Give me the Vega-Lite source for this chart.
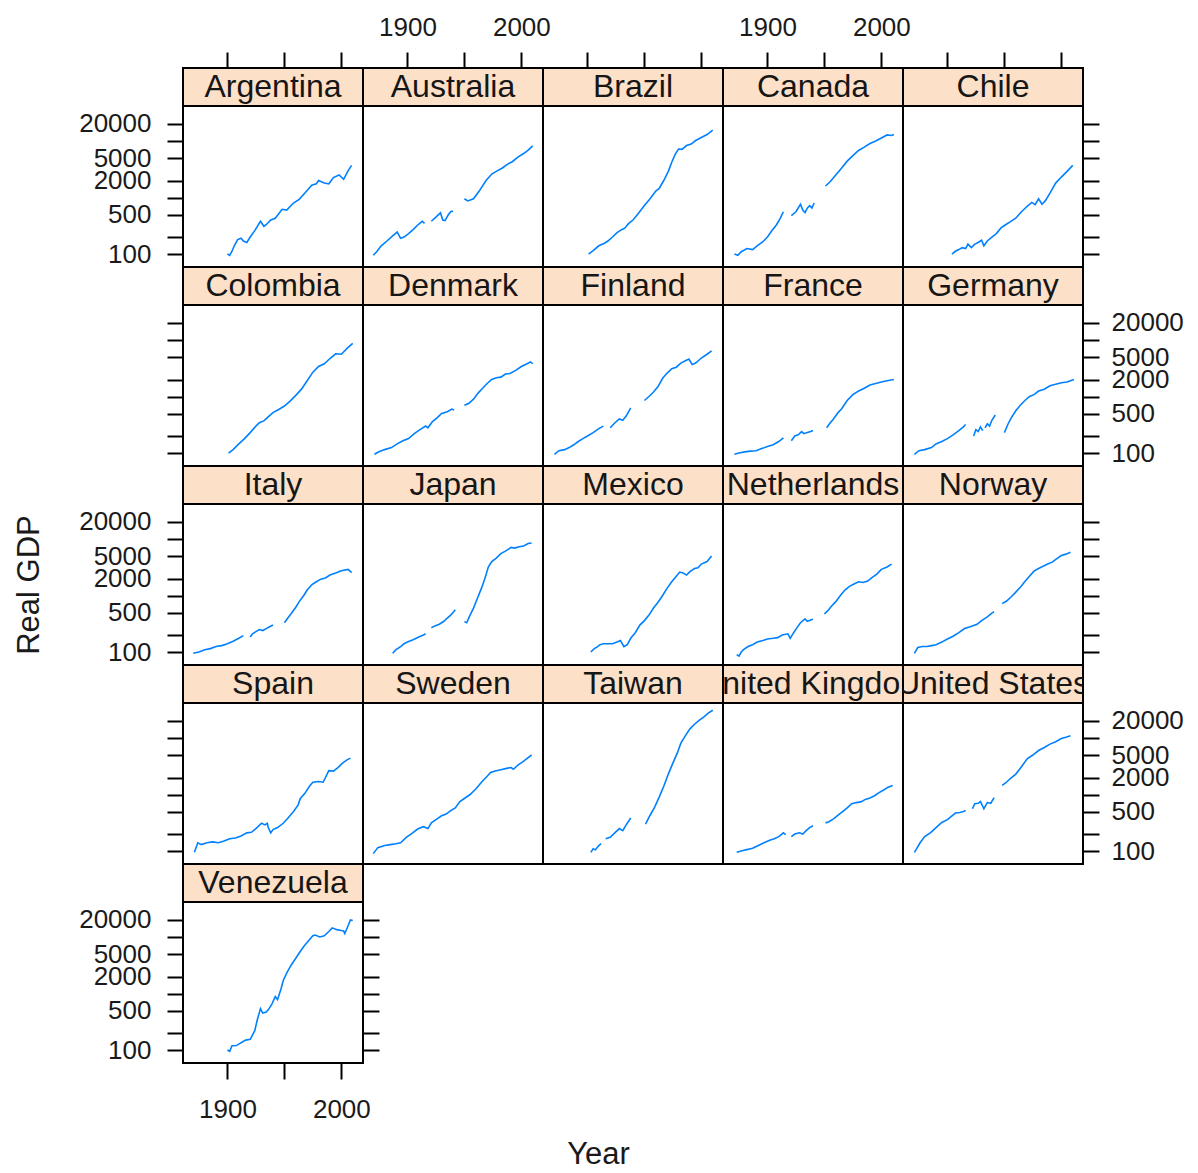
{
"$schema":"https://vega.github.io/schema/vega-lite/v6.json",
"padding":{"left":12,"top":13,"right":5,"bottom":2},
"config":{"font":"Liberation Sans","view":{"stroke":"#000","strokeWidth":2},
"axis":{"domain":false,"grid":false,"tickColor":"#000","tickWidth":2,"tickSize":16,"labelFontSize":26,"labelColor":"#1a1a1a","labelOverlap":false,"labelFlush":false,"titleFontSize":31,"titleFontWeight":"normal","titleColor":"#1a1a1a"},
"line":{"color":"#0080ff","strokeWidth":1.6},
"text":{"fontSize":32,"color":"#161616","baseline":"middle"}},
"title":{"text":"Year","orient":"bottom","anchor":"middle","fontSize":31,"fontWeight":"normal","color":"#1a1a1a","offset":17},
"columns":5,"spacing":0,"bounds":"flush",
"concat":[
{"width":180,"height":38,"view":{"fill":"#fde0c8"},"data":{"values":[{"country":"Argentina"}]},"mark":{"type":"text","clip":true},"encoding":{"x":{"datum":1940,"type":"quantitative","scale":{"domain":[1861,2019],"nice":false,"zero":false},"axis":{"orient":"top","values":[1900,1950,2000],"labels":false,"title":null}},"text":{"field":"country"}}},
{"width":180,"height":38,"view":{"fill":"#fde0c8"},"data":{"values":[{"country":"Australia"}]},"mark":{"type":"text","clip":true},"encoding":{"x":{"datum":1940,"type":"quantitative","scale":{"domain":[1861,2019],"nice":false,"zero":false},"axis":{"orient":"top","values":[1900,1950,2000],"format":"d","labelExpr":"datum.value==1950?'':datum.label","labelPadding":12,"title":null}},"text":{"field":"country"}}},
{"width":180,"height":38,"view":{"fill":"#fde0c8"},"data":{"values":[{"country":"Brazil"}]},"mark":{"type":"text","clip":true},"encoding":{"x":{"datum":1940,"type":"quantitative","scale":{"domain":[1861,2019],"nice":false,"zero":false},"axis":{"orient":"top","values":[1900,1950,2000],"labels":false,"title":null}},"text":{"field":"country"}}},
{"width":180,"height":38,"view":{"fill":"#fde0c8"},"data":{"values":[{"country":"Canada"}]},"mark":{"type":"text","clip":true},"encoding":{"x":{"datum":1940,"type":"quantitative","scale":{"domain":[1861,2019],"nice":false,"zero":false},"axis":{"orient":"top","values":[1900,1950,2000],"format":"d","labelExpr":"datum.value==1950?'':datum.label","labelPadding":12,"title":null}},"text":{"field":"country"}}},
{"width":180,"height":38,"view":{"fill":"#fde0c8"},"data":{"values":[{"country":"Chile"}]},"mark":{"type":"text","clip":true},"encoding":{"x":{"datum":1940,"type":"quantitative","scale":{"domain":[1861,2019],"nice":false,"zero":false},"axis":{"orient":"top","values":[1900,1950,2000],"labels":false,"title":null}},"text":{"field":"country"}}},
{"width":180,"height":161,"data":{"values":[
{"year":1900,"gdp":100,"seg":1},{"year":1902,"gdp":95,"seg":1},{"year":1904,"gdp":112,"seg":1},{"year":1906,"gdp":140,"seg":1},{"year":1909,"gdp":180,"seg":1},{"year":1912,"gdp":190,"seg":1},{"year":1914,"gdp":170,"seg":1},{"year":1917,"gdp":160,"seg":1},{"year":1920,"gdp":200,"seg":1},{"year":1924,"gdp":260,"seg":1},{"year":1929,"gdp":380,"seg":1},{"year":1932,"gdp":310,"seg":1},{"year":1934,"gdp":330,"seg":1},{"year":1938,"gdp":400,"seg":1},{"year":1942,"gdp":430,"seg":1},{"year":1948,"gdp":620,"seg":1},{"year":1952,"gdp":600,"seg":1},{"year":1958,"gdp":800,"seg":1},{"year":1963,"gdp":930,"seg":1},{"year":1968,"gdp":1200,"seg":1},{"year":1974,"gdp":1650,"seg":1},{"year":1978,"gdp":1750,"seg":1},{"year":1980,"gdp":2000,"seg":1},{"year":1985,"gdp":1800,"seg":1},{"year":1989,"gdp":1750,"seg":1},{"year":1993,"gdp":2250,"seg":1},{"year":1998,"gdp":2500,"seg":1},{"year":2002,"gdp":2100,"seg":1},{"year":2006,"gdp":3000,"seg":1},{"year":2009,"gdp":3700,"seg":1}]},
"mark":"line","encoding":{"x":{"field":"year","type":"quantitative","scale":{"domain":[1861,2019],"nice":false,"zero":false},"axis":null},"y":{"field":"gdp","type":"quantitative","scale":{"type":"log","domain":[59,41600],"nice":false},"axis":{"orient":"left","values":[100,200,500,1000,2000,5000,10000,20000],"format":"d","labelExpr":"datum.value==200||datum.value==1000||datum.value==10000?'':datum.label","labelPadding":16,"title":null}},"detail":{"field":"seg"}}},
{"width":180,"height":161,"data":{"values":[
{"year":1870,"gdp":95,"seg":1},{"year":1873,"gdp":110,"seg":1},{"year":1877,"gdp":140,"seg":1},{"year":1882,"gdp":170,"seg":1},{"year":1887,"gdp":210,"seg":1},{"year":1891,"gdp":245,"seg":1},{"year":1894,"gdp":190,"seg":1},{"year":1897,"gdp":200,"seg":1},{"year":1901,"gdp":230,"seg":1},{"year":1905,"gdp":270,"seg":1},{"year":1910,"gdp":340,"seg":1},{"year":1913,"gdp":380,"seg":1},{"year":1915,"gdp":350,"seg":1},
{"year":1921,"gdp":380,"seg":2},{"year":1925,"gdp":450,"seg":2},{"year":1929,"gdp":540,"seg":2},{"year":1931,"gdp":400,"seg":2},{"year":1933,"gdp":390,"seg":2},{"year":1936,"gdp":500,"seg":2},{"year":1938,"gdp":560,"seg":2},{"year":1940,"gdp":580,"seg":2},
{"year":1950,"gdp":950,"seg":3},{"year":1953,"gdp":870,"seg":3},{"year":1958,"gdp":950,"seg":3},{"year":1963,"gdp":1300,"seg":3},{"year":1969,"gdp":2000,"seg":3},{"year":1974,"gdp":2600,"seg":3},{"year":1978,"gdp":2900,"seg":3},{"year":1983,"gdp":3300,"seg":3},{"year":1988,"gdp":3900,"seg":3},{"year":1992,"gdp":4300,"seg":3},{"year":1997,"gdp":5200,"seg":3},{"year":2002,"gdp":6000,"seg":3},{"year":2006,"gdp":6900,"seg":3},{"year":2010,"gdp":8200,"seg":3}]},
"mark":"line","encoding":{"x":{"field":"year","type":"quantitative","scale":{"domain":[1861,2019],"nice":false,"zero":false},"axis":null},"y":{"field":"gdp","type":"quantitative","scale":{"type":"log","domain":[59,41600],"nice":false},"axis":null},"detail":{"field":"seg"}}},
{"width":180,"height":161,"data":{"values":[
{"year":1901,"gdp":100,"seg":1},{"year":1905,"gdp":115,"seg":1},{"year":1910,"gdp":140,"seg":1},{"year":1915,"gdp":155,"seg":1},{"year":1918,"gdp":170,"seg":1},{"year":1922,"gdp":200,"seg":1},{"year":1926,"gdp":240,"seg":1},{"year":1930,"gdp":270,"seg":1},{"year":1933,"gdp":290,"seg":1},{"year":1936,"gdp":345,"seg":1},{"year":1940,"gdp":400,"seg":1},{"year":1945,"gdp":530,"seg":1},{"year":1950,"gdp":720,"seg":1},{"year":1955,"gdp":950,"seg":1},{"year":1960,"gdp":1300,"seg":1},{"year":1963,"gdp":1450,"seg":1},{"year":1967,"gdp":2000,"seg":1},{"year":1971,"gdp":2900,"seg":1},{"year":1974,"gdp":4200,"seg":1},{"year":1977,"gdp":5800,"seg":1},{"year":1980,"gdp":7200,"seg":1},{"year":1983,"gdp":7100,"seg":1},{"year":1987,"gdp":8300,"seg":1},{"year":1991,"gdp":8800,"seg":1},{"year":1995,"gdp":10200,"seg":1},{"year":2000,"gdp":11500,"seg":1},{"year":2005,"gdp":13000,"seg":1},{"year":2010,"gdp":15500,"seg":1}]},
"mark":"line","encoding":{"x":{"field":"year","type":"quantitative","scale":{"domain":[1861,2019],"nice":false,"zero":false},"axis":null},"y":{"field":"gdp","type":"quantitative","scale":{"type":"log","domain":[59,41600],"nice":false},"axis":null},"detail":{"field":"seg"}}},
{"width":180,"height":161,"data":{"values":[
{"year":1871,"gdp":100,"seg":1},{"year":1874,"gdp":95,"seg":1},{"year":1877,"gdp":110,"seg":1},{"year":1882,"gdp":125,"seg":1},{"year":1887,"gdp":120,"seg":1},{"year":1891,"gdp":140,"seg":1},{"year":1896,"gdp":165,"seg":1},{"year":1900,"gdp":200,"seg":1},{"year":1904,"gdp":260,"seg":1},{"year":1908,"gdp":330,"seg":1},{"year":1911,"gdp":420,"seg":1},{"year":1914,"gdp":560,"seg":1},
{"year":1921,"gdp":480,"seg":2},{"year":1925,"gdp":560,"seg":2},{"year":1929,"gdp":760,"seg":2},{"year":1931,"gdp":600,"seg":2},{"year":1933,"gdp":540,"seg":2},{"year":1935,"gdp":650,"seg":2},{"year":1937,"gdp":720,"seg":2},{"year":1939,"gdp":650,"seg":2},{"year":1941,"gdp":800,"seg":2},
{"year":1951,"gdp":1600,"seg":3},{"year":1955,"gdp":1900,"seg":3},{"year":1960,"gdp":2500,"seg":3},{"year":1965,"gdp":3300,"seg":3},{"year":1970,"gdp":4400,"seg":3},{"year":1975,"gdp":5500,"seg":3},{"year":1980,"gdp":6800,"seg":3},{"year":1985,"gdp":7800,"seg":3},{"year":1990,"gdp":9000,"seg":3},{"year":1995,"gdp":10000,"seg":3},{"year":2000,"gdp":11300,"seg":3},{"year":2005,"gdp":12800,"seg":3},{"year":2009,"gdp":12500,"seg":3},{"year":2011,"gdp":13000,"seg":3}]},
"mark":"line","encoding":{"x":{"field":"year","type":"quantitative","scale":{"domain":[1861,2019],"nice":false,"zero":false},"axis":null},"y":{"field":"gdp","type":"quantitative","scale":{"type":"log","domain":[59,41600],"nice":false},"axis":null},"detail":{"field":"seg"}}},
{"width":180,"height":161,"data":{"values":[
{"year":1904,"gdp":100,"seg":1},{"year":1907,"gdp":112,"seg":1},{"year":1910,"gdp":120,"seg":1},{"year":1913,"gdp":130,"seg":1},{"year":1916,"gdp":125,"seg":1},{"year":1918,"gdp":150,"seg":1},{"year":1921,"gdp":130,"seg":1},{"year":1924,"gdp":150,"seg":1},{"year":1927,"gdp":160,"seg":1},{"year":1930,"gdp":175,"seg":1},{"year":1932,"gdp":140,"seg":1},{"year":1935,"gdp":170,"seg":1},{"year":1939,"gdp":200,"seg":1},{"year":1943,"gdp":230,"seg":1},{"year":1947,"gdp":290,"seg":1},{"year":1951,"gdp":330,"seg":1},{"year":1955,"gdp":370,"seg":1},{"year":1960,"gdp":430,"seg":1},{"year":1965,"gdp":560,"seg":1},{"year":1970,"gdp":700,"seg":1},{"year":1974,"gdp":820,"seg":1},{"year":1977,"gdp":750,"seg":1},{"year":1980,"gdp":950,"seg":1},{"year":1983,"gdp":760,"seg":1},{"year":1986,"gdp":880,"seg":1},{"year":1990,"gdp":1200,"seg":1},{"year":1995,"gdp":1800,"seg":1},{"year":2000,"gdp":2300,"seg":1},{"year":2005,"gdp":2900,"seg":1},{"year":2010,"gdp":3700,"seg":1}]},
"mark":"line","encoding":{"x":{"field":"year","type":"quantitative","scale":{"domain":[1861,2019],"nice":false,"zero":false},"axis":null},"y":{"field":"gdp","type":"quantitative","scale":{"type":"log","domain":[59,41600],"nice":false},"axis":{"orient":"right","values":[100,200,500,1000,2000,5000,10000,20000],"labels":false,"title":null}},"detail":{"field":"seg"}}},
{"width":180,"height":38,"view":{"fill":"#fde0c8"},"data":{"values":[{"country":"Colombia"}]},"mark":{"type":"text","clip":true},"encoding":{"x":{"datum":1940,"type":"quantitative","scale":{"domain":[1861,2019],"nice":false,"zero":false},"axis":null},"text":{"field":"country"}}},
{"width":180,"height":38,"view":{"fill":"#fde0c8"},"data":{"values":[{"country":"Denmark"}]},"mark":{"type":"text","clip":true},"encoding":{"x":{"datum":1940,"type":"quantitative","scale":{"domain":[1861,2019],"nice":false,"zero":false},"axis":null},"text":{"field":"country"}}},
{"width":180,"height":38,"view":{"fill":"#fde0c8"},"data":{"values":[{"country":"Finland"}]},"mark":{"type":"text","clip":true},"encoding":{"x":{"datum":1940,"type":"quantitative","scale":{"domain":[1861,2019],"nice":false,"zero":false},"axis":null},"text":{"field":"country"}}},
{"width":180,"height":38,"view":{"fill":"#fde0c8"},"data":{"values":[{"country":"France"}]},"mark":{"type":"text","clip":true},"encoding":{"x":{"datum":1940,"type":"quantitative","scale":{"domain":[1861,2019],"nice":false,"zero":false},"axis":null},"text":{"field":"country"}}},
{"width":180,"height":38,"view":{"fill":"#fde0c8"},"data":{"values":[{"country":"Germany"}]},"mark":{"type":"text","clip":true},"encoding":{"x":{"datum":1940,"type":"quantitative","scale":{"domain":[1861,2019],"nice":false,"zero":false},"axis":null},"text":{"field":"country"}}},
{"width":180,"height":161,"data":{"values":[
{"year":1901,"gdp":100,"seg":1},{"year":1905,"gdp":115,"seg":1},{"year":1910,"gdp":145,"seg":1},{"year":1915,"gdp":180,"seg":1},{"year":1920,"gdp":230,"seg":1},{"year":1925,"gdp":300,"seg":1},{"year":1928,"gdp":345,"seg":1},{"year":1932,"gdp":370,"seg":1},{"year":1936,"gdp":440,"seg":1},{"year":1940,"gdp":520,"seg":1},{"year":1945,"gdp":590,"seg":1},{"year":1950,"gdp":680,"seg":1},{"year":1955,"gdp":830,"seg":1},{"year":1960,"gdp":1050,"seg":1},{"year":1965,"gdp":1350,"seg":1},{"year":1970,"gdp":1900,"seg":1},{"year":1975,"gdp":2700,"seg":1},{"year":1980,"gdp":3400,"seg":1},{"year":1985,"gdp":3800,"seg":1},{"year":1990,"gdp":4700,"seg":1},{"year":1995,"gdp":5700,"seg":1},{"year":2000,"gdp":5600,"seg":1},{"year":2005,"gdp":7100,"seg":1},{"year":2010,"gdp":8700,"seg":1}]},
"mark":"line","encoding":{"x":{"field":"year","type":"quantitative","scale":{"domain":[1861,2019],"nice":false,"zero":false},"axis":null},"y":{"field":"gdp","type":"quantitative","scale":{"type":"log","domain":[59,41600],"nice":false},"axis":{"orient":"left","values":[100,200,500,1000,2000,5000,10000,20000],"labels":false,"title":null}},"detail":{"field":"seg"}}},
{"width":180,"height":161,"data":{"values":[
{"year":1871,"gdp":95,"seg":1},{"year":1875,"gdp":105,"seg":1},{"year":1880,"gdp":115,"seg":1},{"year":1886,"gdp":125,"seg":1},{"year":1891,"gdp":145,"seg":1},{"year":1896,"gdp":165,"seg":1},{"year":1901,"gdp":180,"seg":1},{"year":1906,"gdp":220,"seg":1},{"year":1911,"gdp":260,"seg":1},{"year":1916,"gdp":300,"seg":1},{"year":1918,"gdp":280,"seg":1},{"year":1922,"gdp":360,"seg":1},{"year":1926,"gdp":420,"seg":1},{"year":1930,"gdp":500,"seg":1},{"year":1935,"gdp":540,"seg":1},{"year":1939,"gdp":600,"seg":1},{"year":1941,"gdp":580,"seg":1},
{"year":1950,"gdp":700,"seg":2},{"year":1954,"gdp":760,"seg":2},{"year":1958,"gdp":900,"seg":2},{"year":1962,"gdp":1150,"seg":2},{"year":1966,"gdp":1400,"seg":2},{"year":1970,"gdp":1700,"seg":2},{"year":1974,"gdp":2000,"seg":2},{"year":1978,"gdp":2150,"seg":2},{"year":1982,"gdp":2200,"seg":2},{"year":1986,"gdp":2500,"seg":2},{"year":1990,"gdp":2550,"seg":2},{"year":1995,"gdp":2900,"seg":2},{"year":2000,"gdp":3400,"seg":2},{"year":2005,"gdp":3800,"seg":2},{"year":2008,"gdp":4100,"seg":2},{"year":2010,"gdp":3800,"seg":2}]},
"mark":"line","encoding":{"x":{"field":"year","type":"quantitative","scale":{"domain":[1861,2019],"nice":false,"zero":false},"axis":null},"y":{"field":"gdp","type":"quantitative","scale":{"type":"log","domain":[59,41600],"nice":false},"axis":null},"detail":{"field":"seg"}}},
{"width":180,"height":161,"data":{"values":[
{"year":1871,"gdp":95,"seg":1},{"year":1875,"gdp":110,"seg":1},{"year":1880,"gdp":115,"seg":1},{"year":1884,"gdp":125,"seg":1},{"year":1888,"gdp":140,"seg":1},{"year":1892,"gdp":160,"seg":1},{"year":1896,"gdp":180,"seg":1},{"year":1900,"gdp":200,"seg":1},{"year":1905,"gdp":230,"seg":1},{"year":1910,"gdp":270,"seg":1},{"year":1914,"gdp":300,"seg":1},
{"year":1920,"gdp":280,"seg":2},{"year":1924,"gdp":340,"seg":2},{"year":1928,"gdp":400,"seg":2},{"year":1931,"gdp":380,"seg":2},{"year":1934,"gdp":450,"seg":2},{"year":1938,"gdp":630,"seg":2},
{"year":1950,"gdp":850,"seg":3},{"year":1954,"gdp":1000,"seg":3},{"year":1958,"gdp":1200,"seg":3},{"year":1962,"gdp":1500,"seg":3},{"year":1966,"gdp":2100,"seg":3},{"year":1970,"gdp":2600,"seg":3},{"year":1974,"gdp":3100,"seg":3},{"year":1978,"gdp":3300,"seg":3},{"year":1982,"gdp":3900,"seg":3},{"year":1986,"gdp":4300,"seg":3},{"year":1989,"gdp":4600,"seg":3},{"year":1992,"gdp":3700,"seg":3},{"year":1995,"gdp":3900,"seg":3},{"year":2000,"gdp":4800,"seg":3},{"year":2005,"gdp":5600,"seg":3},{"year":2009,"gdp":6400,"seg":3}]},
"mark":"line","encoding":{"x":{"field":"year","type":"quantitative","scale":{"domain":[1861,2019],"nice":false,"zero":false},"axis":null},"y":{"field":"gdp","type":"quantitative","scale":{"type":"log","domain":[59,41600],"nice":false},"axis":null},"detail":{"field":"seg"}}},
{"width":180,"height":161,"data":{"values":[
{"year":1871,"gdp":95,"seg":1},{"year":1875,"gdp":100,"seg":1},{"year":1880,"gdp":105,"seg":1},{"year":1885,"gdp":108,"seg":1},{"year":1890,"gdp":110,"seg":1},{"year":1895,"gdp":120,"seg":1},{"year":1900,"gdp":130,"seg":1},{"year":1905,"gdp":140,"seg":1},{"year":1910,"gdp":160,"seg":1},{"year":1914,"gdp":185,"seg":1},
{"year":1921,"gdp":165,"seg":2},{"year":1924,"gdp":200,"seg":2},{"year":1927,"gdp":210,"seg":2},{"year":1930,"gdp":240,"seg":2},{"year":1932,"gdp":220,"seg":2},{"year":1935,"gdp":230,"seg":2},{"year":1938,"gdp":240,"seg":2},{"year":1940,"gdp":250,"seg":2},
{"year":1952,"gdp":280,"seg":3},{"year":1955,"gdp":340,"seg":3},{"year":1958,"gdp":400,"seg":3},{"year":1962,"gdp":520,"seg":3},{"year":1965,"gdp":600,"seg":3},{"year":1970,"gdp":850,"seg":3},{"year":1975,"gdp":1080,"seg":3},{"year":1980,"gdp":1250,"seg":3},{"year":1985,"gdp":1400,"seg":3},{"year":1990,"gdp":1600,"seg":3},{"year":1995,"gdp":1700,"seg":3},{"year":2000,"gdp":1800,"seg":3},{"year":2005,"gdp":1900,"seg":3},{"year":2011,"gdp":2000,"seg":3}]},
"mark":"line","encoding":{"x":{"field":"year","type":"quantitative","scale":{"domain":[1861,2019],"nice":false,"zero":false},"axis":null},"y":{"field":"gdp","type":"quantitative","scale":{"type":"log","domain":[59,41600],"nice":false},"axis":null},"detail":{"field":"seg"}}},
{"width":180,"height":161,"data":{"values":[
{"year":1871,"gdp":95,"seg":1},{"year":1875,"gdp":110,"seg":1},{"year":1880,"gdp":115,"seg":1},{"year":1886,"gdp":125,"seg":1},{"year":1890,"gdp":145,"seg":1},{"year":1895,"gdp":160,"seg":1},{"year":1900,"gdp":180,"seg":1},{"year":1905,"gdp":210,"seg":1},{"year":1910,"gdp":250,"seg":1},{"year":1914,"gdp":290,"seg":1},{"year":1916,"gdp":320,"seg":1},
{"year":1923,"gdp":200,"seg":2},{"year":1925,"gdp":260,"seg":2},{"year":1927,"gdp":240,"seg":2},{"year":1929,"gdp":290,"seg":2},{"year":1931,"gdp":250,"seg":2},
{"year":1933,"gdp":280,"seg":3},{"year":1935,"gdp":330,"seg":3},{"year":1937,"gdp":300,"seg":3},{"year":1939,"gdp":380,"seg":3},{"year":1942,"gdp":470,"seg":3},
{"year":1950,"gdp":230,"seg":4},{"year":1953,"gdp":320,"seg":4},{"year":1956,"gdp":420,"seg":4},{"year":1960,"gdp":560,"seg":4},{"year":1964,"gdp":700,"seg":4},{"year":1968,"gdp":850,"seg":4},{"year":1972,"gdp":1000,"seg":4},{"year":1976,"gdp":1080,"seg":4},{"year":1980,"gdp":1250,"seg":4},{"year":1985,"gdp":1350,"seg":4},{"year":1990,"gdp":1550,"seg":4},{"year":1995,"gdp":1650,"seg":4},{"year":2000,"gdp":1750,"seg":4},{"year":2005,"gdp":1800,"seg":4},{"year":2011,"gdp":2000,"seg":4}]},
"mark":"line","encoding":{"x":{"field":"year","type":"quantitative","scale":{"domain":[1861,2019],"nice":false,"zero":false},"axis":null},"y":{"field":"gdp","type":"quantitative","scale":{"type":"log","domain":[59,41600],"nice":false},"axis":{"orient":"right","values":[100,200,500,1000,2000,5000,10000,20000],"format":"d","labelExpr":"datum.value==200||datum.value==1000||datum.value==10000?'':datum.label","labelPadding":12,"title":null}},"detail":{"field":"seg"}}},
{"width":180,"height":38,"view":{"fill":"#fde0c8"},"data":{"values":[{"country":"Italy"}]},"mark":{"type":"text","clip":true},"encoding":{"x":{"datum":1940,"type":"quantitative","scale":{"domain":[1861,2019],"nice":false,"zero":false},"axis":null},"text":{"field":"country"}}},
{"width":180,"height":38,"view":{"fill":"#fde0c8"},"data":{"values":[{"country":"Japan"}]},"mark":{"type":"text","clip":true},"encoding":{"x":{"datum":1940,"type":"quantitative","scale":{"domain":[1861,2019],"nice":false,"zero":false},"axis":null},"text":{"field":"country"}}},
{"width":180,"height":38,"view":{"fill":"#fde0c8"},"data":{"values":[{"country":"Mexico"}]},"mark":{"type":"text","clip":true},"encoding":{"x":{"datum":1940,"type":"quantitative","scale":{"domain":[1861,2019],"nice":false,"zero":false},"axis":null},"text":{"field":"country"}}},
{"width":180,"height":38,"view":{"fill":"#fde0c8"},"data":{"values":[{"country":"Netherlands"}]},"mark":{"type":"text","clip":true},"encoding":{"x":{"datum":1940,"type":"quantitative","scale":{"domain":[1861,2019],"nice":false,"zero":false},"axis":null},"text":{"field":"country"}}},
{"width":180,"height":38,"view":{"fill":"#fde0c8"},"data":{"values":[{"country":"Norway"}]},"mark":{"type":"text","clip":true},"encoding":{"x":{"datum":1940,"type":"quantitative","scale":{"domain":[1861,2019],"nice":false,"zero":false},"axis":null},"text":{"field":"country"}}},
{"width":180,"height":161,"data":{"values":[
{"year":1870,"gdp":95,"seg":1},{"year":1875,"gdp":100,"seg":1},{"year":1880,"gdp":110,"seg":1},{"year":1885,"gdp":115,"seg":1},{"year":1890,"gdp":125,"seg":1},{"year":1895,"gdp":130,"seg":1},{"year":1900,"gdp":140,"seg":1},{"year":1905,"gdp":155,"seg":1},{"year":1910,"gdp":175,"seg":1},{"year":1914,"gdp":195,"seg":1},
{"year":1920,"gdp":185,"seg":2},{"year":1922,"gdp":210,"seg":2},{"year":1925,"gdp":230,"seg":2},{"year":1928,"gdp":250,"seg":2},{"year":1931,"gdp":240,"seg":2},{"year":1934,"gdp":260,"seg":2},{"year":1937,"gdp":280,"seg":2},{"year":1940,"gdp":300,"seg":2},
{"year":1950,"gdp":330,"seg":3},{"year":1953,"gdp":400,"seg":3},{"year":1956,"gdp":480,"seg":3},{"year":1960,"gdp":620,"seg":3},{"year":1963,"gdp":780,"seg":3},{"year":1967,"gdp":1000,"seg":3},{"year":1970,"gdp":1250,"seg":3},{"year":1974,"gdp":1550,"seg":3},{"year":1978,"gdp":1750,"seg":3},{"year":1982,"gdp":1950,"seg":3},{"year":1986,"gdp":2050,"seg":3},{"year":1990,"gdp":2300,"seg":3},{"year":1995,"gdp":2500,"seg":3},{"year":2000,"gdp":2750,"seg":3},{"year":2006,"gdp":2900,"seg":3},{"year":2009,"gdp":2550,"seg":3}]},
"mark":"line","encoding":{"x":{"field":"year","type":"quantitative","scale":{"domain":[1861,2019],"nice":false,"zero":false},"axis":null},"y":{"field":"gdp","type":"quantitative","scale":{"type":"log","domain":[59,41600],"nice":false},"axis":{"orient":"left","values":[100,200,500,1000,2000,5000,10000,20000],"format":"d","labelExpr":"datum.value==200||datum.value==1000||datum.value==10000?'':datum.label","labelPadding":16,"title":"Real GDP","titlePadding":33}},"detail":{"field":"seg"}}},
{"width":180,"height":161,"data":{"values":[
{"year":1887,"gdp":95,"seg":1},{"year":1890,"gdp":110,"seg":1},{"year":1894,"gdp":125,"seg":1},{"year":1897,"gdp":140,"seg":1},{"year":1900,"gdp":150,"seg":1},{"year":1905,"gdp":165,"seg":1},{"year":1910,"gdp":185,"seg":1},{"year":1914,"gdp":200,"seg":1},{"year":1916,"gdp":210,"seg":1},
{"year":1921,"gdp":270,"seg":2},{"year":1924,"gdp":290,"seg":2},{"year":1928,"gdp":310,"seg":2},{"year":1932,"gdp":350,"seg":2},{"year":1935,"gdp":400,"seg":2},{"year":1938,"gdp":450,"seg":2},{"year":1940,"gdp":500,"seg":2},{"year":1942,"gdp":560,"seg":2},
{"year":1950,"gdp":345,"seg":3},{"year":1952,"gdp":330,"seg":3},{"year":1955,"gdp":450,"seg":3},{"year":1958,"gdp":600,"seg":3},{"year":1961,"gdp":850,"seg":3},{"year":1965,"gdp":1350,"seg":3},{"year":1968,"gdp":2000,"seg":3},{"year":1971,"gdp":3200,"seg":3},{"year":1974,"gdp":4000,"seg":3},{"year":1978,"gdp":4600,"seg":3},{"year":1982,"gdp":5500,"seg":3},{"year":1986,"gdp":6100,"seg":3},{"year":1991,"gdp":7100,"seg":3},{"year":1994,"gdp":6900,"seg":3},{"year":1998,"gdp":7300,"seg":3},{"year":2002,"gdp":7500,"seg":3},{"year":2006,"gdp":8300,"seg":3},{"year":2009,"gdp":8500,"seg":3}]},
"mark":"line","encoding":{"x":{"field":"year","type":"quantitative","scale":{"domain":[1861,2019],"nice":false,"zero":false},"axis":null},"y":{"field":"gdp","type":"quantitative","scale":{"type":"log","domain":[59,41600],"nice":false},"axis":null},"detail":{"field":"seg"}}},
{"width":180,"height":161,"data":{"values":[
{"year":1903,"gdp":100,"seg":1},{"year":1906,"gdp":115,"seg":1},{"year":1909,"gdp":125,"seg":1},{"year":1911,"gdp":135,"seg":1},{"year":1914,"gdp":140,"seg":1},{"year":1918,"gdp":140,"seg":1},{"year":1922,"gdp":140,"seg":1},{"year":1926,"gdp":150,"seg":1},{"year":1929,"gdp":160,"seg":1},{"year":1932,"gdp":125,"seg":1},{"year":1935,"gdp":135,"seg":1},{"year":1938,"gdp":175,"seg":1},{"year":1942,"gdp":220,"seg":1},{"year":1946,"gdp":300,"seg":1},{"year":1950,"gdp":360,"seg":1},{"year":1954,"gdp":450,"seg":1},{"year":1958,"gdp":600,"seg":1},{"year":1962,"gdp":760,"seg":1},{"year":1966,"gdp":1000,"seg":1},{"year":1970,"gdp":1350,"seg":1},{"year":1974,"gdp":1750,"seg":1},{"year":1978,"gdp":2200,"seg":1},{"year":1981,"gdp":2600,"seg":1},{"year":1984,"gdp":2500,"seg":1},{"year":1987,"gdp":2300,"seg":1},{"year":1990,"gdp":2650,"seg":1},{"year":1994,"gdp":3000,"seg":1},{"year":1997,"gdp":3100,"seg":1},{"year":2000,"gdp":3600,"seg":1},{"year":2005,"gdp":4000,"seg":1},{"year":2009,"gdp":5000,"seg":1}]},
"mark":"line","encoding":{"x":{"field":"year","type":"quantitative","scale":{"domain":[1861,2019],"nice":false,"zero":false},"axis":null},"y":{"field":"gdp","type":"quantitative","scale":{"type":"log","domain":[59,41600],"nice":false},"axis":null},"detail":{"field":"seg"}}},
{"width":180,"height":161,"data":{"values":[
{"year":1873,"gdp":90,"seg":1},{"year":1875,"gdp":85,"seg":1},{"year":1877,"gdp":100,"seg":1},{"year":1879,"gdp":110,"seg":1},{"year":1883,"gdp":125,"seg":1},{"year":1887,"gdp":135,"seg":1},{"year":1891,"gdp":150,"seg":1},{"year":1896,"gdp":160,"seg":1},{"year":1900,"gdp":170,"seg":1},{"year":1905,"gdp":175,"seg":1},{"year":1909,"gdp":180,"seg":1},{"year":1913,"gdp":200,"seg":1},{"year":1918,"gdp":210,"seg":1},{"year":1920,"gdp":175,"seg":1},{"year":1923,"gdp":220,"seg":1},{"year":1926,"gdp":270,"seg":1},{"year":1929,"gdp":330,"seg":1},{"year":1933,"gdp":385,"seg":1},{"year":1935,"gdp":350,"seg":1},{"year":1938,"gdp":370,"seg":1},{"year":1940,"gdp":380,"seg":1},
{"year":1950,"gdp":470,"seg":2},{"year":1953,"gdp":540,"seg":2},{"year":1956,"gdp":640,"seg":2},{"year":1960,"gdp":780,"seg":2},{"year":1964,"gdp":1000,"seg":2},{"year":1968,"gdp":1250,"seg":2},{"year":1972,"gdp":1450,"seg":2},{"year":1976,"gdp":1600,"seg":2},{"year":1980,"gdp":1750,"seg":2},{"year":1984,"gdp":1700,"seg":2},{"year":1988,"gdp":1800,"seg":2},{"year":1992,"gdp":2100,"seg":2},{"year":1996,"gdp":2400,"seg":2},{"year":2000,"gdp":2900,"seg":2},{"year":2005,"gdp":3200,"seg":2},{"year":2009,"gdp":3600,"seg":2}]},
"mark":"line","encoding":{"x":{"field":"year","type":"quantitative","scale":{"domain":[1861,2019],"nice":false,"zero":false},"axis":null},"y":{"field":"gdp","type":"quantitative","scale":{"type":"log","domain":[59,41600],"nice":false},"axis":null},"detail":{"field":"seg"}}},
{"width":180,"height":161,"data":{"values":[
{"year":1871,"gdp":95,"seg":1},{"year":1874,"gdp":120,"seg":1},{"year":1878,"gdp":125,"seg":1},{"year":1882,"gdp":125,"seg":1},{"year":1886,"gdp":130,"seg":1},{"year":1890,"gdp":135,"seg":1},{"year":1895,"gdp":150,"seg":1},{"year":1900,"gdp":170,"seg":1},{"year":1905,"gdp":190,"seg":1},{"year":1910,"gdp":220,"seg":1},{"year":1915,"gdp":260,"seg":1},{"year":1920,"gdp":280,"seg":1},{"year":1926,"gdp":310,"seg":1},{"year":1930,"gdp":360,"seg":1},{"year":1935,"gdp":420,"seg":1},{"year":1939,"gdp":490,"seg":1},{"year":1941,"gdp":520,"seg":1},
{"year":1948,"gdp":720,"seg":2},{"year":1952,"gdp":800,"seg":2},{"year":1956,"gdp":950,"seg":2},{"year":1960,"gdp":1150,"seg":2},{"year":1964,"gdp":1400,"seg":2},{"year":1968,"gdp":1770,"seg":2},{"year":1972,"gdp":2200,"seg":2},{"year":1976,"gdp":2700,"seg":2},{"year":1980,"gdp":3000,"seg":2},{"year":1984,"gdp":3300,"seg":2},{"year":1988,"gdp":3600,"seg":2},{"year":1992,"gdp":3900,"seg":2},{"year":1996,"gdp":4500,"seg":2},{"year":2000,"gdp":5100,"seg":2},{"year":2004,"gdp":5400,"seg":2},{"year":2008,"gdp":5800,"seg":2}]},
"mark":"line","encoding":{"x":{"field":"year","type":"quantitative","scale":{"domain":[1861,2019],"nice":false,"zero":false},"axis":null},"y":{"field":"gdp","type":"quantitative","scale":{"type":"log","domain":[59,41600],"nice":false},"axis":{"orient":"right","values":[100,200,500,1000,2000,5000,10000,20000],"labels":false,"title":null}},"detail":{"field":"seg"}}},
{"width":180,"height":38,"view":{"fill":"#fde0c8"},"data":{"values":[{"country":"Spain"}]},"mark":{"type":"text","clip":true},"encoding":{"x":{"datum":1940,"type":"quantitative","scale":{"domain":[1861,2019],"nice":false,"zero":false},"axis":null},"text":{"field":"country"}}},
{"width":180,"height":38,"view":{"fill":"#fde0c8"},"data":{"values":[{"country":"Sweden"}]},"mark":{"type":"text","clip":true},"encoding":{"x":{"datum":1940,"type":"quantitative","scale":{"domain":[1861,2019],"nice":false,"zero":false},"axis":null},"text":{"field":"country"}}},
{"width":180,"height":38,"view":{"fill":"#fde0c8"},"data":{"values":[{"country":"Taiwan"}]},"mark":{"type":"text","clip":true},"encoding":{"x":{"datum":1940,"type":"quantitative","scale":{"domain":[1861,2019],"nice":false,"zero":false},"axis":null},"text":{"field":"country"}}},
{"width":180,"height":38,"view":{"fill":"#fde0c8"},"data":{"values":[{"country":"United Kingdom"}]},"mark":{"type":"text","clip":true},"encoding":{"x":{"datum":1940,"type":"quantitative","scale":{"domain":[1861,2019],"nice":false,"zero":false},"axis":null},"text":{"field":"country"}}},
{"width":180,"height":38,"view":{"fill":"#fde0c8"},"data":{"values":[{"country":"United States"}]},"mark":{"type":"text","clip":true},"encoding":{"x":{"datum":1940,"type":"quantitative","scale":{"domain":[1861,2019],"nice":false,"zero":false},"axis":null},"text":{"field":"country"}}},
{"width":180,"height":161,"data":{"values":[
{"year":1871,"gdp":95,"seg":1},{"year":1874,"gdp":140,"seg":1},{"year":1877,"gdp":130,"seg":1},{"year":1882,"gdp":140,"seg":1},{"year":1887,"gdp":145,"seg":1},{"year":1892,"gdp":140,"seg":1},{"year":1897,"gdp":150,"seg":1},{"year":1902,"gdp":165,"seg":1},{"year":1907,"gdp":170,"seg":1},{"year":1912,"gdp":185,"seg":1},{"year":1917,"gdp":210,"seg":1},{"year":1921,"gdp":215,"seg":1},{"year":1925,"gdp":250,"seg":1},{"year":1930,"gdp":310,"seg":1},{"year":1933,"gdp":290,"seg":1},{"year":1935,"gdp":310,"seg":1},{"year":1936,"gdp":255,"seg":1},{"year":1938,"gdp":210,"seg":1},{"year":1940,"gdp":240,"seg":1},{"year":1944,"gdp":260,"seg":1},{"year":1949,"gdp":310,"seg":1},{"year":1953,"gdp":380,"seg":1},{"year":1958,"gdp":500,"seg":1},{"year":1962,"gdp":650,"seg":1},{"year":1964,"gdp":850,"seg":1},{"year":1968,"gdp":1050,"seg":1},{"year":1972,"gdp":1400,"seg":1},{"year":1975,"gdp":1650,"seg":1},{"year":1980,"gdp":1700,"seg":1},{"year":1984,"gdp":1650,"seg":1},{"year":1989,"gdp":2650,"seg":1},{"year":1993,"gdp":2600,"seg":1},{"year":1997,"gdp":3000,"seg":1},{"year":2001,"gdp":3600,"seg":1},{"year":2005,"gdp":4100,"seg":1},{"year":2008,"gdp":4400,"seg":1}]},
"mark":"line","encoding":{"x":{"field":"year","type":"quantitative","scale":{"domain":[1861,2019],"nice":false,"zero":false},"axis":null},"y":{"field":"gdp","type":"quantitative","scale":{"type":"log","domain":[59,41600],"nice":false},"axis":{"orient":"left","values":[100,200,500,1000,2000,5000,10000,20000],"labels":false,"title":null}},"detail":{"field":"seg"}}},
{"width":180,"height":161,"data":{"values":[
{"year":1870,"gdp":90,"seg":1},{"year":1874,"gdp":115,"seg":1},{"year":1880,"gdp":125,"seg":1},{"year":1885,"gdp":130,"seg":1},{"year":1890,"gdp":135,"seg":1},{"year":1894,"gdp":140,"seg":1},{"year":1899,"gdp":175,"seg":1},{"year":1904,"gdp":205,"seg":1},{"year":1909,"gdp":245,"seg":1},{"year":1914,"gdp":270,"seg":1},{"year":1918,"gdp":250,"seg":1},{"year":1921,"gdp":315,"seg":1},{"year":1926,"gdp":370,"seg":1},{"year":1930,"gdp":420,"seg":1},{"year":1934,"gdp":450,"seg":1},{"year":1938,"gdp":520,"seg":1},{"year":1942,"gdp":580,"seg":1},{"year":1946,"gdp":750,"seg":1},{"year":1950,"gdp":850,"seg":1},{"year":1955,"gdp":1000,"seg":1},{"year":1960,"gdp":1250,"seg":1},{"year":1965,"gdp":1650,"seg":1},{"year":1970,"gdp":2100,"seg":1},{"year":1973,"gdp":2450,"seg":1},{"year":1977,"gdp":2600,"seg":1},{"year":1982,"gdp":2750,"seg":1},{"year":1987,"gdp":2900,"seg":1},{"year":1991,"gdp":3000,"seg":1},{"year":1993,"gdp":2800,"seg":1},{"year":1997,"gdp":3300,"seg":1},{"year":2002,"gdp":3900,"seg":1},{"year":2006,"gdp":4500,"seg":1},{"year":2009,"gdp":5000,"seg":1}]},
"mark":"line","encoding":{"x":{"field":"year","type":"quantitative","scale":{"domain":[1861,2019],"nice":false,"zero":false},"axis":null},"y":{"field":"gdp","type":"quantitative","scale":{"type":"log","domain":[59,41600],"nice":false},"axis":null},"detail":{"field":"seg"}}},
{"width":180,"height":161,"data":{"values":[
{"year":1903,"gdp":95,"seg":1},{"year":1905,"gdp":110,"seg":1},{"year":1907,"gdp":105,"seg":1},{"year":1910,"gdp":125,"seg":1},{"year":1912,"gdp":135,"seg":1},
{"year":1916,"gdp":165,"seg":2},{"year":1920,"gdp":175,"seg":2},{"year":1924,"gdp":210,"seg":2},{"year":1928,"gdp":250,"seg":2},{"year":1931,"gdp":230,"seg":2},{"year":1934,"gdp":290,"seg":2},{"year":1938,"gdp":385,"seg":2},
{"year":1951,"gdp":300,"seg":3},{"year":1955,"gdp":430,"seg":3},{"year":1959,"gdp":600,"seg":3},{"year":1963,"gdp":900,"seg":3},{"year":1967,"gdp":1400,"seg":3},{"year":1971,"gdp":2300,"seg":3},{"year":1975,"gdp":3600,"seg":3},{"year":1979,"gdp":5500,"seg":3},{"year":1982,"gdp":8100,"seg":3},{"year":1986,"gdp":11000,"seg":3},{"year":1990,"gdp":14500,"seg":3},{"year":1994,"gdp":17500,"seg":3},{"year":1998,"gdp":20500,"seg":3},{"year":2002,"gdp":23500,"seg":3},{"year":2006,"gdp":27500,"seg":3},{"year":2010,"gdp":31000,"seg":3}]},
"mark":"line","encoding":{"x":{"field":"year","type":"quantitative","scale":{"domain":[1861,2019],"nice":false,"zero":false},"axis":null},"y":{"field":"gdp","type":"quantitative","scale":{"type":"log","domain":[59,41600],"nice":false},"axis":null},"detail":{"field":"seg"}}},
{"width":180,"height":161,"data":{"values":[
{"year":1873,"gdp":95,"seg":1},{"year":1877,"gdp":100,"seg":1},{"year":1881,"gdp":105,"seg":1},{"year":1887,"gdp":112,"seg":1},{"year":1892,"gdp":125,"seg":1},{"year":1897,"gdp":140,"seg":1},{"year":1902,"gdp":155,"seg":1},{"year":1906,"gdp":165,"seg":1},{"year":1910,"gdp":180,"seg":1},{"year":1914,"gdp":210,"seg":1},{"year":1916,"gdp":195,"seg":1},
{"year":1921,"gdp":180,"seg":2},{"year":1924,"gdp":200,"seg":2},{"year":1928,"gdp":210,"seg":2},{"year":1931,"gdp":200,"seg":2},{"year":1934,"gdp":230,"seg":2},{"year":1937,"gdp":260,"seg":2},{"year":1940,"gdp":280,"seg":2},
{"year":1951,"gdp":315,"seg":3},{"year":1954,"gdp":330,"seg":3},{"year":1958,"gdp":370,"seg":3},{"year":1962,"gdp":430,"seg":3},{"year":1966,"gdp":500,"seg":3},{"year":1970,"gdp":580,"seg":3},{"year":1974,"gdp":690,"seg":3},{"year":1978,"gdp":720,"seg":3},{"year":1982,"gdp":740,"seg":3},{"year":1986,"gdp":820,"seg":3},{"year":1990,"gdp":870,"seg":3},{"year":1994,"gdp":950,"seg":3},{"year":1998,"gdp":1080,"seg":3},{"year":2002,"gdp":1200,"seg":3},{"year":2006,"gdp":1350,"seg":3},{"year":2010,"gdp":1450,"seg":3}]},
"mark":"line","encoding":{"x":{"field":"year","type":"quantitative","scale":{"domain":[1861,2019],"nice":false,"zero":false},"axis":null},"y":{"field":"gdp","type":"quantitative","scale":{"type":"log","domain":[59,41600],"nice":false},"axis":null},"detail":{"field":"seg"}}},
{"width":180,"height":161,"data":{"values":[
{"year":1871,"gdp":95,"seg":1},{"year":1873,"gdp":110,"seg":1},{"year":1876,"gdp":140,"seg":1},{"year":1880,"gdp":180,"seg":1},{"year":1885,"gdp":210,"seg":1},{"year":1890,"gdp":260,"seg":1},{"year":1895,"gdp":320,"seg":1},{"year":1900,"gdp":360,"seg":1},{"year":1904,"gdp":420,"seg":1},{"year":1907,"gdp":470,"seg":1},{"year":1911,"gdp":480,"seg":1},{"year":1914,"gdp":500,"seg":1},{"year":1916,"gdp":520,"seg":1},
{"year":1922,"gdp":560,"seg":2},{"year":1924,"gdp":690,"seg":2},{"year":1927,"gdp":700,"seg":2},{"year":1929,"gdp":750,"seg":2},{"year":1932,"gdp":560,"seg":2},{"year":1935,"gdp":720,"seg":2},{"year":1938,"gdp":700,"seg":2},{"year":1941,"gdp":880,"seg":2},
{"year":1948,"gdp":1450,"seg":3},{"year":1951,"gdp":1600,"seg":3},{"year":1955,"gdp":1900,"seg":3},{"year":1960,"gdp":2300,"seg":3},{"year":1965,"gdp":3100,"seg":3},{"year":1970,"gdp":4300,"seg":3},{"year":1975,"gdp":5000,"seg":3},{"year":1980,"gdp":6000,"seg":3},{"year":1985,"gdp":6800,"seg":3},{"year":1990,"gdp":7800,"seg":3},{"year":1995,"gdp":8600,"seg":3},{"year":2000,"gdp":9800,"seg":3},{"year":2004,"gdp":10300,"seg":3},{"year":2008,"gdp":11000,"seg":3}]},
"mark":"line","encoding":{"x":{"field":"year","type":"quantitative","scale":{"domain":[1861,2019],"nice":false,"zero":false},"axis":null},"y":{"field":"gdp","type":"quantitative","scale":{"type":"log","domain":[59,41600],"nice":false},"axis":{"orient":"right","values":[100,200,500,1000,2000,5000,10000,20000],"format":"d","labelExpr":"datum.value==200||datum.value==1000||datum.value==10000?'':datum.label","labelPadding":12,"title":null}},"detail":{"field":"seg"}}},
{"width":180,"height":38,"view":{"fill":"#fde0c8"},"data":{"values":[{"country":"Venezuela"}]},"mark":{"type":"text","clip":true},"encoding":{"x":{"datum":1940,"type":"quantitative","scale":{"domain":[1861,2019],"nice":false,"zero":false},"axis":null},"text":{"field":"country"}}},
{"width":180,"height":38,"view":{"stroke":null},"data":{"values":[]},"mark":"point"},
{"width":180,"height":38,"view":{"stroke":null},"data":{"values":[]},"mark":"point"},
{"width":180,"height":38,"view":{"stroke":null},"data":{"values":[]},"mark":"point"},
{"width":180,"height":38,"view":{"stroke":null},"data":{"values":[]},"mark":"point"},
{"width":180,"height":161,"data":{"values":[
{"year":1900,"gdp":100,"seg":1},{"year":1902,"gdp":95,"seg":1},{"year":1904,"gdp":119,"seg":1},{"year":1908,"gdp":120,"seg":1},{"year":1912,"gdp":135,"seg":1},{"year":1916,"gdp":150,"seg":1},{"year":1920,"gdp":155,"seg":1},{"year":1924,"gdp":220,"seg":1},{"year":1926,"gdp":330,"seg":1},{"year":1929,"gdp":540,"seg":1},{"year":1931,"gdp":450,"seg":1},{"year":1934,"gdp":470,"seg":1},{"year":1936,"gdp":520,"seg":1},{"year":1939,"gdp":650,"seg":1},{"year":1942,"gdp":880,"seg":1},{"year":1944,"gdp":780,"seg":1},{"year":1947,"gdp":1200,"seg":1},{"year":1949,"gdp":1700,"seg":1},{"year":1952,"gdp":2300,"seg":1},{"year":1956,"gdp":3200,"seg":1},{"year":1960,"gdp":4200,"seg":1},{"year":1963,"gdp":5200,"seg":1},{"year":1967,"gdp":6800,"seg":1},{"year":1971,"gdp":8500,"seg":1},{"year":1975,"gdp":10500,"seg":1},{"year":1977,"gdp":10800,"seg":1},{"year":1981,"gdp":10000,"seg":1},{"year":1985,"gdp":10500,"seg":1},{"year":1989,"gdp":12500,"seg":1},{"year":1992,"gdp":14500,"seg":1},{"year":1996,"gdp":13500,"seg":1},{"year":2000,"gdp":13000,"seg":1},{"year":2002,"gdp":12800,"seg":1},{"year":2003,"gdp":11500,"seg":1},{"year":2006,"gdp":16000,"seg":1},{"year":2008,"gdp":20000,"seg":1},{"year":2010,"gdp":19500,"seg":1}]},
"layer":[
{"mark":"line","encoding":{"x":{"field":"year","type":"quantitative","scale":{"domain":[1861,2019],"nice":false,"zero":false},"axis":{"orient":"bottom","values":[1900,1950,2000],"format":"d","labelExpr":"datum.value==1950?'':datum.label","labelPadding":17,"title":null}},"y":{"field":"gdp","type":"quantitative","scale":{"type":"log","domain":[59,41600],"nice":false},"axis":{"orient":"left","values":[100,200,500,1000,2000,5000,10000,20000],"format":"d","labelExpr":"datum.value==200||datum.value==1000||datum.value==10000?'':datum.label","labelPadding":16,"title":null}},"detail":{"field":"seg"}}},
{"mark":{"type":"line","opacity":0},"encoding":{"x":{"field":"year","type":"quantitative"},"y":{"field":"gdp","type":"quantitative","axis":{"orient":"right","values":[100,200,500,1000,2000,5000,10000,20000],"labels":false,"title":null}},"detail":{"field":"seg"}}}
],"resolve":{"axis":{"y":"independent"}}}
]
}
